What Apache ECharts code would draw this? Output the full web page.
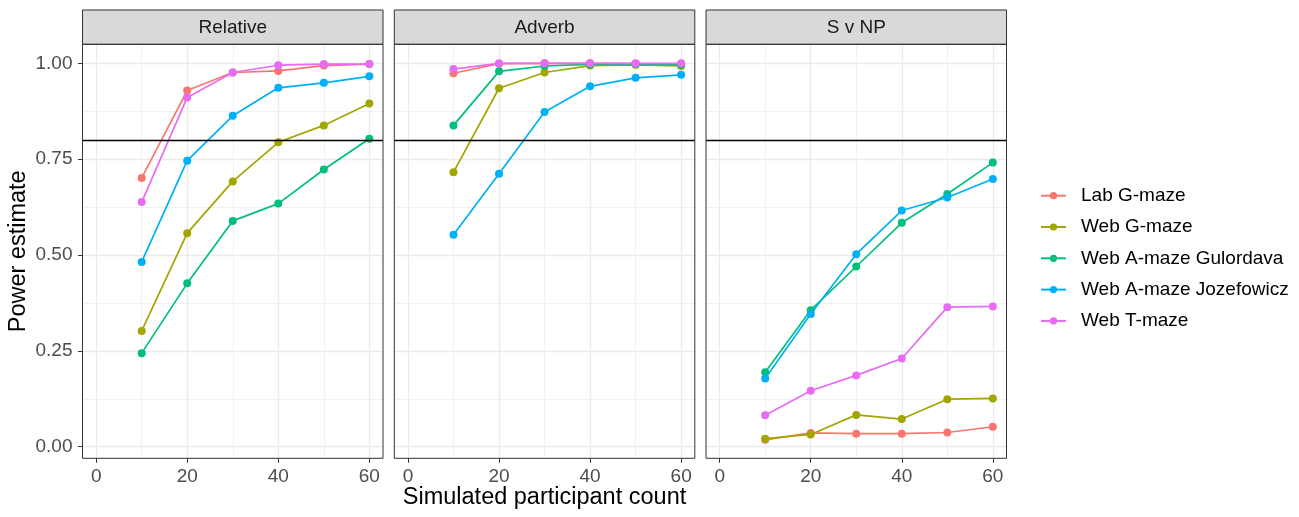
<!DOCTYPE html>
<html>
<head>
<meta charset="utf-8">
<script src="https://cdn.jsdelivr.net/npm/echarts@6/dist/echarts.min.js"></script>
<style>html,body{margin:0;padding:0;background:#fff}#c{width:1299px;height:517px}</style>
</head>
<body>
<div id="c"></div>
<script>
// ---- data ----
const xValues = [10, 20, 30, 40, 50, 60];
const panelNames = ['Relative', 'Adverb', 'S v NP'];
const seriesNames = ['Lab G-maze', 'Web G-maze', 'Web A-maze Gulordava', 'Web A-maze Jozefowicz', 'Web T-maze'];
const seriesColors = ['#F8766D', '#A3A500', '#00BF7D', '#00B0F6', '#E76BF3'];
const xTicksMajor = [0, 20, 40, 60];
const yTickLabels = ['0.00', '0.25', '0.50', '0.75', '1.00'];
const thresholdValue = 0.8;

// Relative
const relLab   = [0.701, 0.929, 0.976, 0.980, 0.994, 0.998];
const relWebG  = [0.302, 0.557, 0.692, 0.794, 0.838, 0.895];
const relGulo  = [0.244, 0.426, 0.589, 0.634, 0.723, 0.803];
const relJoze  = [0.482, 0.746, 0.863, 0.936, 0.949, 0.966];
const relTmaze = [0.638, 0.911, 0.976, 0.995, 0.998, 0.998];
// Adverb
const advLab   = [0.974, 0.999, 1.000, 1.000, 0.999, 0.998];
const advWebG  = [0.716, 0.935, 0.976, 0.994, 0.996, 0.993];
const advGulo  = [0.838, 0.979, 0.993, 0.997, 0.998, 0.996];
const advJoze  = [0.553, 0.712, 0.873, 0.940, 0.962, 0.970];
const advTmaze = [0.985, 1.000, 1.000, 1.000, 1.000, 1.000];
// S v NP
const svnLab   = [0.018, 0.036, 0.034, 0.034, 0.037, 0.052];
const svnWebG  = [0.021, 0.032, 0.083, 0.072, 0.124, 0.126];
const svnGulo  = [0.194, 0.356, 0.470, 0.584, 0.659, 0.741];
const svnJoze  = [0.178, 0.346, 0.502, 0.616, 0.650, 0.698];
const svnTmaze = [0.082, 0.146, 0.186, 0.230, 0.364, 0.366];

const panelData = [
  [relLab, relWebG, relGulo, relJoze, relTmaze],
  [advLab, advWebG, advGulo, advJoze, advTmaze],
  [svnLab, svnWebG, svnGulo, svnJoze, svnTmaze]
];

// ---- layout ----
const FONT = '"Liberation Sans", Arial, sans-serif';
const panelLeft = [82.5, 394.3, 706];
const panelW = 300.5;
const panelTop = 44.3, panelBottom = 458.3;
const yTop = 63.3, yH = 383.4;   // pixel span of 0..1
const xPad = panelW * 3 / 66;     // ggplot expansion
const xW = panelW * 60 / 66;

const grids = [], xAxes = [], yAxes = [], series = [], graphics = [];
const gridLine = '#EBEBEB';

panelNames.forEach((pn, p) => {
  const L = panelLeft[p];
  grids.push({left: L + xPad, width: xW, top: panelTop, height: panelBottom - panelTop,
              containLabel: false, outerBoundsMode: 'none', show: false});
  grids.push({left: L, width: panelW, top: yTop, height: yH,
              containLabel: false, outerBoundsMode: 'none', show: false});
  const gB = 2 * p, gC = 2 * p + 1;

  xAxes.push({gridIndex: gB, type: 'value', min: 0, max: 60, interval: 10,
    axisLine: {show: false}, axisTick: {show: false}, axisLabel: {show: false},
    splitLine: {show: true, lineStyle: {color: gridLine, width: 0.7}}});
  xAxes.push({gridIndex: gB, type: 'value', min: 0, max: 60, interval: 20, position: 'bottom',
    axisLine: {show: false},
    axisTick: {show: true, length: 4.5, lineStyle: {color: '#333333', width: 1}},
    axisLabel: {show: true, color: '#4D4D4D', fontSize: 19, fontFamily: FONT, margin: 9,
      formatter: v => xTicksMajor.includes(v) ? String(v) : ''},
    splitLine: {show: true, lineStyle: {color: gridLine, width: 1.4}}});
  xAxes.push({gridIndex: gC, type: 'value', min: -3, max: 63, show: false});

  yAxes.push({gridIndex: gB, type: 'value', min: 0, max: 1, show: false});
  yAxes.push({gridIndex: gC, type: 'value', min: 0, max: 1, interval: 0.125, position: 'right',
    axisLine: {show: false}, axisTick: {show: false}, axisLabel: {show: false},
    splitLine: {show: true, lineStyle: {color: gridLine, width: 0.7}}});
  yAxes.push({gridIndex: gC, type: 'value', min: 0, max: 1, interval: 0.25, position: 'left',
    axisLine: {show: false},
    axisTick: {show: p === 0, length: 4.5, lineStyle: {color: '#333333', width: 1}},
    axisLabel: {show: p === 0, color: '#4D4D4D', fontSize: 19, fontFamily: FONT, margin: 10,
      formatter: v => yTickLabels[Math.round(v / 0.25)] || ''},
    splitLine: {show: true, lineStyle: {color: gridLine, width: 1.4}}});

  panelData[p].forEach((vals, s) => {
    const ser = {
      name: seriesNames[s], type: 'line',
      xAxisIndex: 3 * p + 2, yAxisIndex: 3 * p + 2,
      data: xValues.map((x, i) => [x, vals[i]]),
      symbol: 'circle', symbolSize: 8, clip: false,
      color: seriesColors[s],
      itemStyle: {color: seriesColors[s]},
      lineStyle: {color: seriesColors[s], width: 1.7},
      emphasis: {disabled: true}, animation: false, z: 3
    };
    if (s === seriesNames.length - 1) {
      ser.markLine = {silent: true, symbol: ['none', 'none'], label: {show: false},
        lineStyle: {color: '#000000', width: 1.4, type: 'solid'},
        data: [{yAxis: thresholdValue}], animation: false};
    }
    series.push(ser);
  });

  graphics.push({type: 'rect', shape: {x: L, y: 10, width: panelW, height: panelTop - 10},
    style: {fill: '#D9D9D9', stroke: '#333333', lineWidth: 1}, z: 100});
  graphics.push({type: 'text', x: L + panelW / 2, y: (10 + panelTop) / 2 + 1,
    style: {text: pn, fill: '#1A1A1A', font: '19px ' + FONT, textAlign: 'center', textVerticalAlign: 'middle'}, z: 101});
  graphics.push({type: 'rect', shape: {x: L, y: panelTop, width: panelW, height: panelBottom - panelTop},
    style: {fill: 'none', stroke: '#333333', lineWidth: 1}, z: 100});
});

graphics.push({type: 'text', x: (panelLeft[0] + panelLeft[2] + panelW) / 2, y: 498,
  style: {text: 'Simulated participant count', fill: '#000', font: '23.5px ' + FONT, textAlign: 'center', textVerticalAlign: 'middle'}});
graphics.push({type: 'text', x: 19, y: (panelTop + panelBottom) / 2, rotation: Math.PI / 2,
  style: {text: 'Power estimate', fill: '#000', font: '23.5px ' + FONT, textAlign: 'center', textVerticalAlign: 'middle'}});

const chart = echarts.init(document.getElementById('c'), null, {renderer: 'canvas'});
chart.setOption({
  animation: false,
  backgroundColor: '#ffffff',
  grid: grids, xAxis: xAxes, yAxis: yAxes, series: series,
  legend: {
    orient: 'vertical', left: 1040, top: 185.7, padding: 0,
    data: seriesNames,
    itemWidth: 25, itemHeight: 9, itemGap: 11.3,
    textStyle: {color: '#000', fontSize: 19, fontFamily: FONT, lineHeight: 20, padding: [0, 0, 0, 10]},
    selectedMode: false
  },
  graphic: graphics
});
</script>
</body>
</html>
